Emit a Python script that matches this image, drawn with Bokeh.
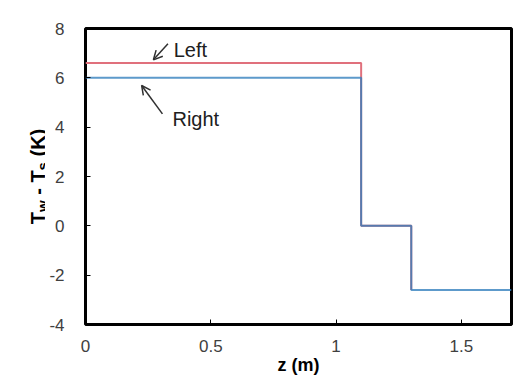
import math
from bokeh.plotting import figure
from bokeh.layouts import row
from bokeh.models import Label, Arrow, OpenHead, FixedTicker, Range1d, NumeralTickFormatter
from bokeh.embed import file_html
from bokeh.resources import INLINE

# ---- data ----
z_left = [0, 1.1, 1.1, 1.3, 1.3]
dT_left = [6.6, 6.6, 0, 0, -2.6]
z_right = [0, 1.1, 1.1, 1.3, 1.3, 1.7]
dT_right = [6.0, 6.0, 0, 0, -2.6, -2.6]
x_ticks = [0, 0.5, 1, 1.5]
y_ticks = [-4, -2, 0, 2, 4, 6, 8]
x_title = "z (m)"
y_title_parts = [("T", False), ("w", True), (" - ", False), ("T", False), ("s", True), (" (K)", False)]
ann_left = {"text": "Left", "tx": 0.352, "ty": 7.11, "x0": 0.329, "y0": 7.38, "x1": 0.271, "y1": 6.73}
ann_right = {"text": "Right", "tx": 0.347, "ty": 4.35, "x0": 0.307, "y0": 4.54, "x1": 0.224, "y1": 5.69}

FONT = "Liberation Sans"
X0, X1, Y0, Y1 = 0, 1.7, -4, 8
H = 379
LW = 45                      # width of the strip holding the y-axis title
W_MAIN = 532 - LW
BL, BR, BT, BB = 40, 21, 28, 55

# ---- main plot ----
p = figure(width=W_MAIN, height=H, x_range=Range1d(X0, X1), y_range=Range1d(Y0, Y1),
           output_backend="svg", toolbar_location=None,
           min_border_left=BL, min_border_right=BR, min_border_top=BT, min_border_bottom=BB)
p.background_fill_color = "white"
p.border_fill_color = "white"
p.grid.visible = False
p.outline_line_color = "black"
p.outline_line_width = 3

for ax in (p.xaxis[0], p.yaxis[0]):
    ax.axis_line_color = None
    ax.major_tick_in = 5
    ax.major_tick_out = 0
    ax.major_tick_line_color = "black"
    ax.major_tick_line_width = 1
    ax.minor_tick_line_color = None
    ax.major_label_text_font = FONT
    ax.major_label_text_font_size = "17px"
    ax.major_label_text_color = "#404040"

p.xaxis.ticker = FixedTicker(ticks=x_ticks)
p.yaxis.ticker = FixedTicker(ticks=y_ticks)
p.xaxis.formatter = NumeralTickFormatter(format="0.[0]")
p.yaxis.formatter = NumeralTickFormatter(format="0")
p.xaxis.major_label_standoff = 15
p.yaxis.major_label_standoff = 21

p.xaxis.axis_label = x_title
p.xaxis.axis_label_text_font = FONT
p.xaxis.axis_label_text_font_style = "bold"
p.xaxis.axis_label_text_font_size = "18px"
p.xaxis.axis_label_text_color = "black"
p.xaxis.axis_label_standoff = 0

# series
p.line(z_left, dT_left, line_color="#e0707c", line_width=2)
p.line(z_right, dT_right, line_color="#2f7dbd", line_alpha=0.78, line_width=2)

# annotations
for a in (ann_left, ann_right):
    p.add_layout(Label(x=a["tx"], y=a["ty"], text=a["text"], text_font=FONT,
                       text_font_size="20px", text_color="#202020",
                       text_align="left", text_baseline="alphabetic"))
    p.add_layout(Arrow(x_start=a["x0"], y_start=a["y0"], x_end=a["x1"], y_end=a["y1"],
                       line_color="#303030", line_width=1.5,
                       end=OpenHead(size=9, line_color="#303030", line_width=1.5)))

# ---- strip with the rotated y-axis title (with subscripts) ----
# its frame is kept aligned with the main frame; 1 data unit = 1 pixel
t = figure(width=LW, height=H, x_range=Range1d(0, LW), y_range=Range1d(BB, H - BT),
           output_backend="svg", toolbar_location=None,
           x_axis_type=None, y_axis_type=None,
           min_border_left=0, min_border_right=0, min_border_top=BT, min_border_bottom=BB)
t.grid.visible = False
t.outline_line_color = None
t.background_fill_color = "white"
t.border_fill_color = "white"

W = {"T": 0.611, "w": 0.778, " ": 0.278, "-": 0.333, "s": 0.556, "(": 0.333, "K": 0.722, ")": 0.333}
main_size, sub_size = 20, 15


def width(s, size):
    return sum(W[c] for c in s) * size


total = sum(width(s, sub_size if sub else main_size) for s, sub in y_title_parts)
center_y = (BB + H - BT) / 2
pos = center_y - total / 2
for s, sub in y_title_parts:
    size = sub_size if sub else main_size
    core = s.strip()
    lead = s[: len(s) - len(s.lstrip())]
    trail = s[len(s.rstrip()):]
    pos += width(lead, size) + width(core, size)
    # anchored at the end of each piece so the text stays inside the strip
    t.add_layout(Label(x=42 if sub else 37, y=pos, text=core, angle=math.pi / 2,
                       text_font=FONT, text_font_style="bold",
                       text_font_size=f"{size}px", text_color="black",
                       text_align="right", text_baseline="alphabetic"))
    pos += width(trail, size)

layout = row(t, p)
open("out.html", "w").write(file_html(layout, INLINE))
